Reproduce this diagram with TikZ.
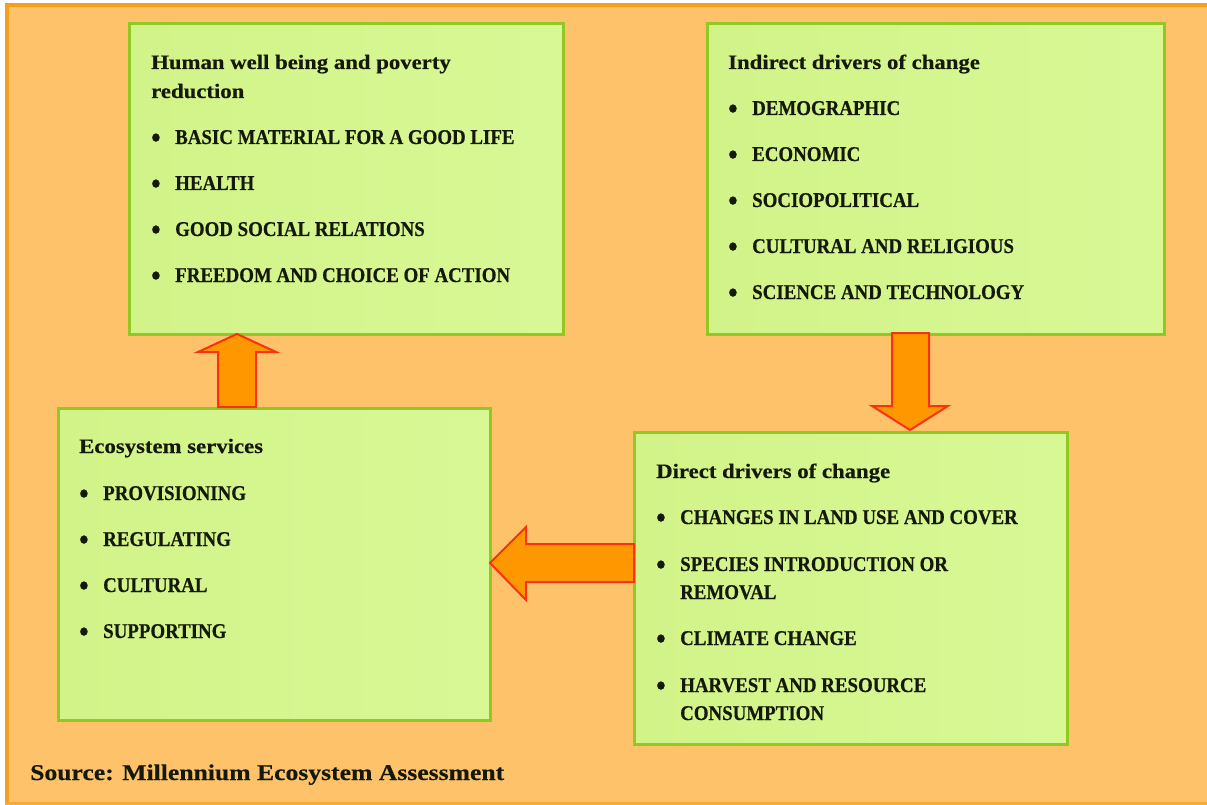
\documentclass[tikz,border=0pt]{standalone}
\usepackage{fontspec}
\setmainfont{Liberation Serif}
\newfontfamily\itemfont[FakeStretch=0.9, BoldFeatures={FakeBold=0.5}]{Liberation Serif}
\newfontfamily\titlefont[FakeStretch=1.11, BoldFeatures={FakeBold=0.4}]{Liberation Serif}
\newfontfamily\srcfont[FakeStretch=1.14, BoldFeatures={FakeBold=0.4}]{Liberation Serif}
\definecolor{bgorange}{RGB}{254,195,106}
\definecolor{edgeorange}{RGB}{243,160,30}
\definecolor{boxfillL}{RGB}{210,243,136}
\definecolor{boxfillR}{RGB}{216,248,150}
\definecolor{boxedge}{RGB}{145,200,35}
\definecolor{arrowfill}{RGB}{255,152,0}
\definecolor{arrowedge}{RGB}{250,50,20}
\definecolor{txt}{RGB}{20,25,10}
\tikzset{
  panel/.style={rectangle, draw=boxedge, line width=3pt, left color=boxfillL, right color=boxfillR, anchor=north west, inner sep=0pt},
  headline/.style={anchor=base west, inner sep=0pt, text=txt, font=\titlefont\bfseries\fontsize{20.5}{24}\selectfont},
  bulletline/.style={anchor=base west, inner sep=0pt, text=txt, font=\itemfont\bfseries\fontsize{21}{25}\selectfont},
  contline/.style={anchor=base west, inner sep=0pt, text=txt, font=\itemfont\bfseries\fontsize{21}{25}\selectfont},
  blockarrow/.style={fill=arrowfill, draw=arrowedge, line width=2pt, line join=miter}
}
\newcommand{\bul}{\makebox[24pt][l]{\raisebox{-3.5pt}{\fontsize{30}{30}\selectfont •}}}
\begin{document}
\begin{tikzpicture}[x=1pt,y=-1pt]
\useasboundingbox (0,0) rectangle (1207,805);
\fill[white] (0,0) rectangle (1207,805);
\fill[bgorange] (5,3) rectangle (1207,805);
\fill[edgeorange] (5,3) rectangle (1207,7);
\fill[edgeorange] (5,3) rectangle (9,805);
\fill[edgeorange!70!bgorange] (5,802) rectangle (1207,805);

% boxes
\node[panel, minimum width=434pt, minimum height=311pt] (b1) at (128,22) {};
\node[panel, minimum width=457pt, minimum height=311pt] (b2) at (706,22) {};
\node[panel, minimum width=432pt, minimum height=312pt] (b3) at (57,407) {};
\node[panel, minimum width=433pt, minimum height=312pt] (b4) at (633,431) {};

% arrows
\draw[blockarrow] (218,407) -- (218,352) -- (198,352) -- (237,334) -- (276,352) -- (256,352) -- (256,407) -- cycle;
\draw[blockarrow] (892,333) -- (892,406) -- (872,406) -- (910,430) -- (948,406) -- (929,406) -- (929,333) -- cycle;
\draw[blockarrow] (634,544) -- (526,544) -- (526,527) -- (490,563) -- (526,600) -- (526,582) -- (634,582) -- cycle;

% box 1 text
\node[headline] (t1a) at (151,69) {Human well being and poverty};
\node[headline] (t1b) at (151,98) {reduction};
\node[bulletline] (t1c) at (151,144) {\bul BASIC MATERIAL FOR A GOOD LIFE};
\node[bulletline] (t1d) at (151,190) {\bul HEALTH};
\node[bulletline] (t1e) at (151,236) {\bul GOOD SOCIAL RELATIONS};
\node[bulletline] (t1f) at (151,282) {\bul FREEDOM AND CHOICE OF ACTION};

% box 2 text
\node[headline] (t2a) at (728,69) {Indirect drivers of change};
\node[bulletline] (t2b) at (728,115) {\bul DEMOGRAPHIC};
\node[bulletline] (t2c) at (728,161) {\bul ECONOMIC};
\node[bulletline] (t2d) at (728,207) {\bul SOCIOPOLITICAL};
\node[bulletline] (t2e) at (728,253) {\bul CULTURAL AND RELIGIOUS};
\node[bulletline] (t2f) at (728,299) {\bul SCIENCE AND TECHNOLOGY};

% box 3 text
\node[headline] (t3a) at (79,453) {Ecosystem services};
\node[bulletline] (t3b) at (79,500) {\bul PROVISIONING};
\node[bulletline] (t3c) at (79,546) {\bul REGULATING};
\node[bulletline] (t3d) at (79,592) {\bul CULTURAL};
\node[bulletline] (t3e) at (79,638) {\bul SUPPORTING};

% box 4 text
\node[headline] (t4a) at (656,478) {Direct drivers of change};
\node[bulletline] (t4b) at (656,524) {\bul CHANGES IN LAND USE AND COVER};
\node[bulletline] (t4c) at (656,571) {\bul SPECIES INTRODUCTION OR};
\node[contline] (t4d) at (680,599) {REMOVAL};
\node[bulletline] (t4e) at (656,645) {\bul CLIMATE CHANGE};
\node[bulletline] (t4f) at (656,692) {\bul HARVEST AND RESOURCE};
\node[contline] (t4g) at (680,720) {CONSUMPTION};

% source
\node[anchor=base west, inner sep=0pt, text=txt, font=\srcfont\bfseries\fontsize{22.5}{26}\selectfont] (src) at (30,780) {Source: Millennium Ecosystem Assessment};
\end{tikzpicture}
\end{document}
